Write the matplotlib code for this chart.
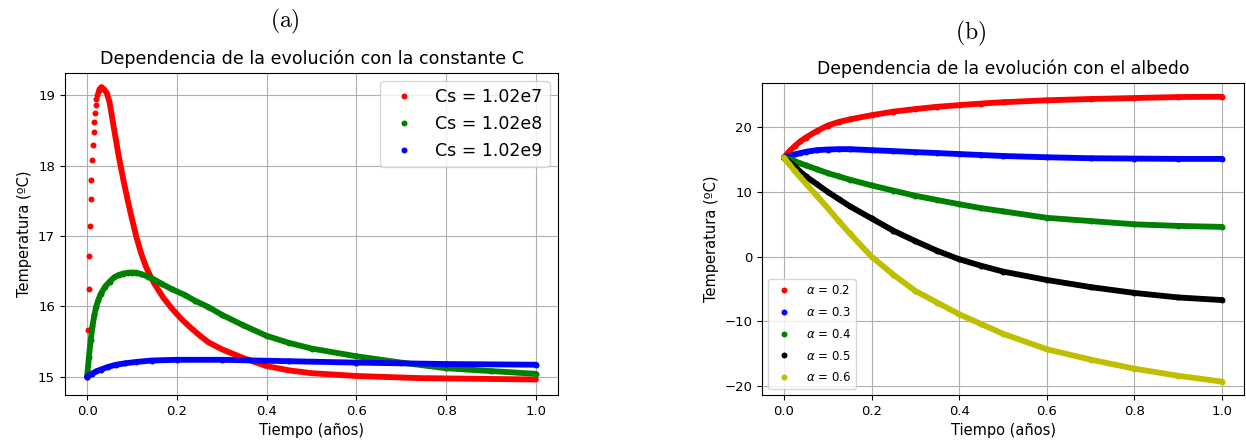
import matplotlib
matplotlib.use("Agg")
import matplotlib.pyplot as plt

# (a) dependence on heat capacity Cs
red_rise_t = [0, 0.0016, 0.0032, 0.0048, 0.0064, 0.008, 0.0096, 0.0112, 0.0128,
              0.0144, 0.016, 0.0176, 0.0192, 0.0208, 0.0224, 0.024, 0.0256,
              0.0272, 0.0288, 0.0304, 0.032]
red_rise_T = [15.0, 15.67, 16.24, 16.72, 17.14, 17.52, 17.80, 18.08, 18.29,
              18.48, 18.62, 18.75, 18.86, 18.94, 19.0, 19.04, 19.07,
              19.09, 19.10, 19.11, 19.11]
red_t = [0.032, 0.037, 0.044, 0.05, 0.06, 0.07, 0.08, 0.09, 0.10, 0.11, 0.12,
         0.13, 0.14, 0.15, 0.17, 0.19, 0.21, 0.23, 0.25, 0.27, 0.30, 0.35,
         0.40, 0.45, 0.50, 0.60, 0.74, 0.87, 1.0]
red_T = [19.11, 19.09, 19.03, 18.90, 18.52, 18.15, 17.82, 17.52, 17.24, 16.98,
         16.76, 16.58, 16.44, 16.32, 16.12, 15.96, 15.82, 15.70, 15.59, 15.49,
         15.39, 15.26, 15.15, 15.09, 15.05, 15.01, 14.98, 14.97, 14.96]

green_t = [0, 0.004, 0.008, 0.012, 0.016, 0.02, 0.025, 0.03, 0.04, 0.05, 0.06,
           0.07, 0.08, 0.09, 0.10, 0.11, 0.12, 0.136, 0.15, 0.166, 0.19, 0.218,
           0.24, 0.27, 0.30, 0.348, 0.40, 0.45, 0.50, 0.60, 0.70, 0.80, 0.90, 1.0]
green_T = [15.0, 15.28, 15.52, 15.72, 15.87, 15.99, 16.09, 16.17, 16.28, 16.35,
           16.41, 16.445, 16.465, 16.477, 16.48, 16.478, 16.46, 16.42, 16.38,
           16.32, 16.24, 16.16, 16.08, 15.99, 15.88, 15.73, 15.58, 15.48, 15.40,
           15.29, 15.20, 15.12, 15.08, 15.04]

blue_t = [0, 0.01, 0.02, 0.03, 0.047, 0.065, 0.084, 0.11, 0.144, 0.2, 0.30,
          0.45, 0.60, 0.80, 1.0]
blue_T = [15.0, 15.04, 15.075, 15.10, 15.14, 15.17, 15.19, 15.21, 15.23, 15.24,
          15.24, 15.22, 15.20, 15.18, 15.17]

cs_labels = ['Cs = 1.02e7', 'Cs = 1.02e8', 'Cs = 1.02e9']

# (b) dependence on albedo
alb_t = [0, 0.0125, 0.025, 0.0375, 0.05, 0.075, 0.1, 0.125, 0.15, 0.2, 0.25,
         0.3, 0.35, 0.4, 0.45, 0.5, 0.6, 0.7, 0.8, 0.9, 1.0]
alb_02 = [15.3, 16.3, 17.1, 17.8, 18.4, 19.4, 20.25, 20.8, 21.2, 21.85, 22.4,
          22.8, 23.15, 23.4, 23.65, 23.85, 24.15, 24.35, 24.5, 24.65, 24.7]
alb_03 = [15.3, 15.55, 15.8, 16.0, 16.2, 16.45, 16.55, 16.6, 16.6, 16.45, 16.3,
          16.15, 16.0, 15.85, 15.7, 15.55, 15.35, 15.2, 15.15, 15.1, 15.1]
alb_04 = [15.3, 15.0, 14.75, 14.4, 14.1, 13.5, 12.9, 12.4, 11.9, 11.0, 10.2,
          9.4, 8.75, 8.1, 7.5, 7.0, 6.0, 5.5, 5.0, 4.75, 4.6]
alb_05 = [15.3, 14.6, 13.9, 13.1, 12.4, 11.2, 10.0, 8.9, 7.8, 5.9, 4.0,
          2.4, 0.9, -0.4, -1.4, -2.3, -3.6, -4.7, -5.6, -6.3, -6.7]
alb_06 = [15.3, 14.25, 13.2, 12.25, 11.3, 9.4, 7.5, 5.5, 3.6, 0.0, -2.8,
          -5.3, -7.1, -8.9, -10.4, -11.9, -14.3, -15.9, -17.3, -18.4, -19.3]
alb_labels = [r'$\alpha$ = 0.2', r'$\alpha$ = 0.3', r'$\alpha$ = 0.4',
              r'$\alpha$ = 0.5', r'$\alpha$ = 0.6']
alb_colors = ['r', 'b', 'g', 'k', 'y']

MS = 4.3
LW = 4.2

fig = plt.figure(figsize=(12.46, 4.45), dpi=100)
ax1 = fig.add_axes([0.0519, 0.1124, 0.3963, 0.7242])
ax2 = fig.add_axes([0.6116, 0.1124, 0.3868, 0.7018])

# left panel
ax1.plot(red_rise_t, red_rise_T, 'o', color='r', ms=MS, mew=0, label=cs_labels[0])
ax1.plot(red_t, red_T, '-', color='r', lw=LW, solid_capstyle='round')
ax1.plot(green_t, green_T, 'o', color='g', ms=MS, mew=0, label=cs_labels[1])
ax1.plot(green_t, green_T, '-', color='g', lw=LW, solid_capstyle='round')
ax1.plot(blue_t, blue_T, 'o', color='b', ms=MS, mew=0, label=cs_labels[2])
ax1.plot(blue_t, blue_T, '-', color='b', lw=LW, solid_capstyle='round')
ax1.set_xlim(-0.05, 1.05)
ax1.set_ylim(14.74, 19.32)
ax1.set_yticks([15, 16, 17, 18, 19])
ax1.set_xticks([0.0, 0.2, 0.4, 0.6, 0.8, 1.0])
ax1.grid(True)
ax1.set_title('Dependencia de la evolución con la constante C', fontsize=12.6)
ax1.set_xlabel('Tiempo (años)', fontsize=10.5)
ax1.set_ylabel('Temperatura (ºC)', fontsize=10.5)
ax1.tick_params(labelsize=9.5)
ax1.legend(loc='upper right', fontsize=12.5)

# right panel
for vals, c, lab in zip([alb_02, alb_03, alb_04, alb_05, alb_06], alb_colors, alb_labels):
    ax2.plot(alb_t, vals, 'o', color=c, ms=MS, mew=0, label=lab)
    ax2.plot(alb_t, vals, '-', color=c, lw=LW, solid_capstyle='round')
ax2.set_xlim(-0.05, 1.05)
ax2.set_ylim(-21.36, 26.87)
ax2.set_yticks([-20, -10, 0, 10, 20])
ax2.set_xticks([0.0, 0.2, 0.4, 0.6, 0.8, 1.0])
ax2.grid(True)
ax2.set_title('Dependencia de la evolución con el albedo', fontsize=12.4)
ax2.set_xlabel('Tiempo (años)', fontsize=10.5)
ax2.set_ylabel('Temperatura (ºC)', fontsize=10.5)
ax2.tick_params(labelsize=9.5)
ax2.legend(loc='lower left', fontsize=8.5, labelspacing=0.75)

# panel letters
fig.text(285 / 1246, 1 - 21 / 445, r'$\mathrm{(a)}$', fontsize=17,
         ha='center', va='center', math_fontfamily='cm')
fig.text(971 / 1246, 1 - 33 / 445, r'$\mathrm{(b)}$', fontsize=17,
         ha='center', va='center', math_fontfamily='cm')

fig.savefig('out.png', dpi=100)
